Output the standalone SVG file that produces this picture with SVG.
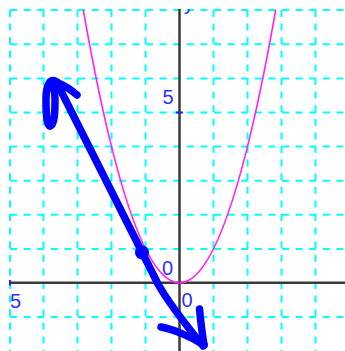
<svg xmlns="http://www.w3.org/2000/svg" width="345" height="351" viewBox="0 0 345 351">
<style>
.g{stroke:#00ffff;stroke-width:2;stroke-dasharray:7 6.6;fill:none}
.ax{stroke:#3a3a3a;stroke-width:2.5;fill:none}
.tk{stroke:#2020ff;stroke-width:2}
.lb{font-family:"Liberation Sans",Arial,sans-serif;font-size:20px;fill:#3030ff}
.pen{stroke:#0000ff;stroke-width:7.5;fill:none;stroke-linecap:round;stroke-linejoin:round}
.curve{stroke:#ff22ff;stroke-width:1.6;fill:none}
</style>
<defs>
<clipPath id="topclip"><rect x="0" y="9.3" width="345" height="342"/></clipPath>
</defs>
<rect width="345" height="351" fill="#ffffff"/>
<g id="grid">
<line class="g" x1="10" y1="10" x2="10" y2="351"/>
<line class="g" x1="43.5" y1="10" x2="43.5" y2="351"/>
<line class="g" x1="77.5" y1="10" x2="77.5" y2="351"/>
<line class="g" x1="111.5" y1="10" x2="111.5" y2="351"/>
<line class="g" x1="145.5" y1="10" x2="145.5" y2="351"/>
<line class="g" x1="213.5" y1="10" x2="213.5" y2="351"/>
<line class="g" x1="247.5" y1="10" x2="247.5" y2="351"/>
<line class="g" x1="281.5" y1="10" x2="281.5" y2="351"/>
<line class="g" x1="315.5" y1="10" x2="315.5" y2="351"/>
<line class="g" x1="10" y1="10" x2="345" y2="10"/>
<line class="g" x1="10" y1="44.3" x2="345" y2="44.3"/>
<line class="g" x1="10" y1="78.4" x2="345" y2="78.4"/>
<line class="g" x1="10" y1="112.5" x2="345" y2="112.5"/>
<line class="g" x1="10" y1="146.6" x2="345" y2="146.6"/>
<line class="g" x1="10" y1="180.7" x2="345" y2="180.7"/>
<line class="g" x1="10" y1="214.8" x2="345" y2="214.8"/>
<line class="g" x1="10" y1="248.9" x2="345" y2="248.9"/>
<line class="g" x1="10" y1="317.1" x2="345" y2="317.1"/>
</g>
<g id="axes">
<line class="ax" x1="10" y1="282.8" x2="345" y2="282.8"/>
<line class="ax" x1="179.5" y1="9" x2="179.5" y2="351"/>
<line class="tk" x1="10" y1="280" x2="10" y2="285.5"/>
<line class="tk" x1="176" y1="112.5" x2="183" y2="112.5"/>
</g>
<g id="labels">
<text class="lb" x="173.5" y="103.5" text-anchor="end">5</text>
<text class="lb" x="173" y="274.5" text-anchor="end">0</text>
<text class="lb" x="10" y="308">5</text>
<text class="lb" x="181.5" y="307">0</text>
<text class="lb" x="184" y="9.6" clip-path="url(#topclip)">y</text>
</g>
<g id="parabola">
<path class="curve" d="M 83.3 10 Q 179.5 555.6 275.7 10"/>
</g>
<g id="tangent">
<path class="pen" d="M 57 83 L 158 284 C 168 302 190 330 203 346"/>
<path class="pen" d="M 57 82 C 50 78 46 84 46 100 C 46 118 47.5 127 50.5 126 C 54.5 125 55 112 55 100 C 55 92 54 88 52 86"/>
<path class="pen" d="M 58 83 Q 68 87 77 95"/>
<path class="pen" d="M 161 327 C 172 329 190 336 204 345"/>
<path class="pen" d="M 199.5 309 C 200.5 320 202 332 204 345"/>
<circle cx="142" cy="252.5" r="7" fill="#0000ff"/>
</g>
</svg>
